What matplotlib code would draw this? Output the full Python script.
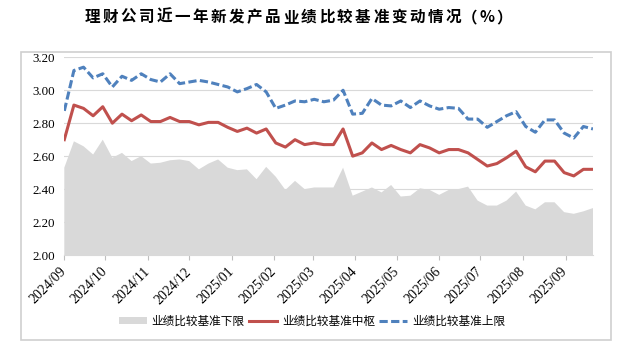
import matplotlib
matplotlib.use("Agg")
import matplotlib.pyplot as plt
import matplotlib.dates as mdates
from matplotlib.patches import Rectangle
import pandas as pd
import numpy as np

title = "理财公司近一年新发产品业绩比较基准变动情况"
title_tail = ["（", "%", "）"]
series_names = ["业绩比较基准下限", "业绩比较基准中枢", "业绩比较基准上限"]

start_date = "2024-09-01"
n_weeks = 56

lower = [2.53, 2.69, 2.66, 2.61, 2.70, 2.59, 2.62, 2.57, 2.60, 2.555,
         2.56, 2.575, 2.58, 2.57, 2.52, 2.555, 2.58, 2.53, 2.515, 2.52,
         2.46, 2.535, 2.475, 2.395, 2.45, 2.40, 2.41, 2.41, 2.41, 2.53,
         2.36, 2.385, 2.41, 2.38, 2.425, 2.355, 2.36, 2.405, 2.395, 2.365,
         2.395, 2.40, 2.415, 2.33, 2.30, 2.30, 2.33, 2.385, 2.30, 2.277,
         2.32, 2.32, 2.26, 2.25, 2.265, 2.285]
middle = [2.70, 2.91, 2.89, 2.845, 2.90, 2.80, 2.855, 2.815, 2.85, 2.81,
          2.81, 2.835, 2.81, 2.81, 2.79, 2.805, 2.805, 2.775, 2.75, 2.77,
          2.74, 2.765, 2.68, 2.655, 2.70, 2.67, 2.68, 2.67, 2.67, 2.765,
          2.60, 2.62, 2.68, 2.64, 2.665, 2.64, 2.62, 2.67, 2.65, 2.62,
          2.64, 2.64, 2.62, 2.58, 2.54, 2.555, 2.59, 2.63, 2.535, 2.505,
          2.57, 2.57, 2.50, 2.48, 2.52, 2.52]
upper = [2.875, 3.12, 3.14, 3.075, 3.10, 3.02, 3.085, 3.06, 3.10, 3.065,
         3.05, 3.10, 3.04, 3.05, 3.06, 3.05, 3.035, 3.02, 2.99, 3.01,
         3.035, 2.99, 2.89, 2.91, 2.935, 2.93, 2.945, 2.93, 2.94, 3.00,
         2.855, 2.86, 2.95, 2.91, 2.905, 2.935, 2.895, 2.935, 2.905, 2.885,
         2.895, 2.89, 2.825, 2.825, 2.775, 2.81, 2.845, 2.87, 2.78, 2.745,
         2.82, 2.82, 2.74, 2.71, 2.78, 2.765]
yticks = [2.00, 2.20, 2.40, 2.60, 2.80, 3.00, 3.20]

dates = pd.date_range(start_date, periods=n_weeks, freq="7D")

W, H = 625, 351
fig = plt.figure(figsize=(W / 100, H / 100), dpi=100)
fig.patch.set_facecolor("white")

# outer chart border
fig.patches.append(Rectangle((20.7 / W, 1 - 340 / H), (611 - 20.7) / W, (340 - 51.8) / H,
                             transform=fig.transFigure, fill=False,
                             edgecolor="#cfcfcf", linewidth=1.2, zorder=0))

ax = fig.add_axes([64.3 / W, 1 - 255 / H, (593 - 64.3) / W, (255 - 57.3) / H])
ax.set_facecolor("none")

ax.fill_between(dates, 0, lower, color="#d9d9d9", linewidth=0, label=series_names[0], zorder=2)
ax.plot(dates, middle, color="#c0504d", linewidth=2.2, solid_joinstyle="round",
        label=series_names[1], zorder=3)
ax.plot(dates, upper, color="#4f81bd", linewidth=2.2, linestyle=(0, (2.7, 1.1)),
        dash_joinstyle="round", label=series_names[2], zorder=4)

ax.set_ylim(2.0, 3.2)
ax.set_xlim(dates[0], dates[-1])
ax.set_yticks(yticks)
ax.set_yticklabels([f"{v:.2f}" for v in yticks], fontfamily="Liberation Serif", fontsize=9.3)
ax.yaxis.grid(True, color="#d9d9d9", linewidth=0.8)
ax.set_axisbelow(True)
ax.tick_params(axis="y", length=0, pad=7)

ax.xaxis.set_major_locator(mdates.MonthLocator())
ax.xaxis.set_major_formatter(mdates.DateFormatter("%Y/%m"))
ax.tick_params(axis="x", length=3.6, width=0.8, color="#bfbfbf", pad=7)
for lab in ax.get_xticklabels():
    lab.set_fontfamily("Liberation Serif")
    lab.set_fontsize(10)
    lab.set_rotation(45)
    lab.set_ha("right")
    lab.set_va("center")
    lab.set_rotation_mode("anchor")

for s in ["left", "right", "top"]:
    ax.spines[s].set_visible(False)
ax.spines["bottom"].set_color("#d9d9d9")
ax.spines["bottom"].set_linewidth(0.8)

# title, characters spaced like the reference
step = 18.05
x0 = 83
ty = 1 - 17 / H
for i, ch in enumerate(title):
    fig.text((x0 + step / 2 + i * step) / W, ty, ch,
             fontfamily="Noto Sans CJK SC", fontweight="bold", fontsize=11.2,
             ha="center", va="center")
for cx, ch in zip([470, 487, 504], title_tail):
    fig.text(cx / W, ty, ch, fontfamily=["Noto Sans CJK SC", "DejaVu Sans"],
             fontweight="bold", fontsize=11.2, ha="center", va="center")

leg = fig.legend(loc="center", bbox_to_anchor=(312 / W, 1 - 321 / H), ncol=3,
                 frameon=False, prop={"family": "Noto Sans CJK SC", "size": 8.4},
                 handlelength=2.4, handletextpad=0.45, columnspacing=0.35,
                 handleheight=0.6)

fig.savefig("out.png", dpi=100)
